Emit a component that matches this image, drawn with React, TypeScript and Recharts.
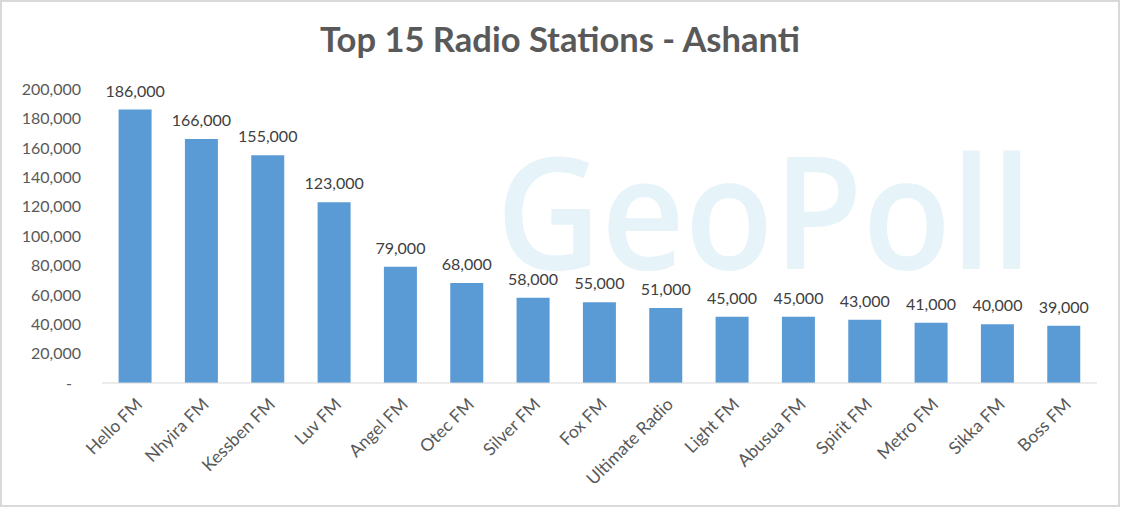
import React from "react";
import { BarChart, Bar, XAxis, YAxis, LabelList } from "recharts";

const stations = [
  "Hello FM", "Nhyira FM", "Kessben FM", "Luv FM", "Angel FM", "Otec FM", "Silver FM",
  "Fox FM", "Ultimate Radio", "Light FM", "Abusua FM", "Spirit FM", "Metro FM", "Sikka FM", "Boss FM",
];
const listeners = [186000, 166000, 155000, 123000, 79000, 68000, 58000, 55000, 51000, 45000, 45000, 43000, 41000, 40000, 39000];
const yTicks = [0, 20000, 40000, 60000, 80000, 100000, 120000, 140000, 160000, 180000, 200000];
const title = "Top 15 Radio Stations - Ashanti";
const watermark = "GeoPoll";

const data = stations.map((name, i) => ({ name, value: listeners[i] }));

const FONT = "Lato, 'Open Sans', sans-serif";
const fmt = (v: number) => (v === 0 ? "-" : v.toLocaleString("en-US"));

const YTick = (props: any) => {
  const { x, y, payload } = props;
  const v = payload.value as number;
  return (
    <text x={v === 0 ? x - 9 : x} y={y} dy="0.36em" textAnchor="end" fill="#595959" fontSize={16} fontFamily={FONT}>
      {fmt(v)}
    </text>
  );
};

const XTick = (props: any) => {
  const { x, y, payload } = props;
  const ax = x + 4;
  const ay = y + 10;
  return (
    <text x={ax} y={ay} dy="0.36em" textAnchor="end" transform={`rotate(-45, ${ax}, ${ay})`} fill="#595959" fontSize={17.5} fontFamily={FONT}>
      {payload.value}
    </text>
  );
};

export default function App() {
  return (
    <div style={{ position: "absolute", left: 0, top: 0, width: 1121, height: 507, background: "#fff" }}>
      <div style={{ position: "absolute", left: 0, top: 0, width: 1120, height: 507, boxSizing: "border-box", border: "2px solid #D9D9D9" }} />
      <svg width={1121} height={507} style={{ position: "absolute", left: 0, top: 0 }}>
        <text x={496} y={269} fontFamily="'Open Sans', sans-serif" fontWeight={600} fontSize={156} fill="#E6F4F9" textLength={536} lengthAdjust="spacingAndGlyphs">
          {watermark}
        </text>
        <text x={320} y={52} fontFamily={FONT} fontWeight={700} fontSize={34} fill="#595959" textLength={480} lengthAdjust="spacingAndGlyphs">
          {title}
        </text>
      </svg>
      <div style={{ position: "absolute", left: 0, top: 0 }}>
        <BarChart width={1121} height={507} data={data} margin={{ top: 89, right: 24, bottom: 0, left: 22 }} barCategoryGap="25%">
          <XAxis dataKey="name" interval={0} height={124} tick={<XTick />} tickLine={false} axisLine={{ stroke: "#D9D9D9", strokeWidth: 1 }} />
          <YAxis domain={[0, 200000]} ticks={yTicks} width={80} tick={<YTick />} tickLine={false} axisLine={false} tickSize={0} tickMargin={21} />
          <Bar dataKey="value" fill="#5B9BD5" isAnimationActive={false}>
            <LabelList dataKey="value" position="top" offset={13} formatter={(v: any) => fmt(Number(v))} fill="#404040" fontSize={16} fontFamily={FONT} />
          </Bar>
        </BarChart>
      </div>
    </div>
  );
}
